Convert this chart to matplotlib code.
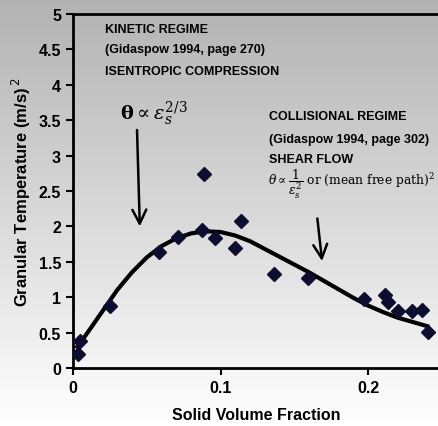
import matplotlib.pyplot as plt
import numpy as np

# measured points (solid volume fraction, granular temperature)
frac = [0.0034, 0.005, 0.025, 0.058, 0.071, 0.0875, 0.089, 0.096, 0.110, 0.114,
        0.136, 0.159, 0.197, 0.2115, 0.2135, 0.220, 0.230, 0.2365, 0.2405]
temp = [0.20, 0.38, 0.88, 1.64, 1.85, 1.95, 2.74, 1.83, 1.70, 2.08,
        1.33, 1.27, 0.97, 1.03, 0.93, 0.80, 0.80, 0.82, 0.51]

# fitted trend line
fit_x = [0.003, 0.01, 0.02, 0.03, 0.04, 0.05, 0.06, 0.07, 0.08, 0.09, 0.10, 0.11,
         0.12, 0.13, 0.14, 0.15, 0.16, 0.17, 0.18, 0.19, 0.20, 0.21, 0.22, 0.23, 0.24]
fit_y = [0.30, 0.50, 0.80, 1.10, 1.35, 1.56, 1.72, 1.83, 1.90, 1.93, 1.92, 1.87,
         1.79, 1.68, 1.57, 1.46, 1.35, 1.23, 1.11, 0.99, 0.88, 0.79, 0.71, 0.65, 0.59]

xticks = [0, 0.1, 0.2]
xtick_labels = ["0", "0.1", "0.2"]
yticks = [0, 0.5, 1, 1.5, 2, 2.5, 3, 3.5, 4, 4.5, 5]
ytick_labels = ["0", "0.5", "1", "1.5", "2", "2.5", "3", "3.5", "4", "4.5", "5"]

plt.rcParams["font.family"] = ["Liberation Sans", "DejaVu Sans"]

fig = plt.figure(figsize=(4.39, 4.27), dpi=100)

# grey-to-white background gradient
bg = fig.add_axes([0, 0, 1, 1], zorder=-10)
f = np.linspace(0, 1, 256)
shade = np.clip(1.0 - 0.30 * f, 0, 1)
img = np.repeat(shade.reshape(-1, 1, 1), 3, axis=2)
bg.imshow(img, aspect="auto", extent=[0, 1, 0, 1], origin="lower")
bg.axis("off")

ax = fig.add_axes([0.166, 0.136, 0.834, 0.829])
ax.patch.set_alpha(0)

ax.plot(fit_x, fit_y, color="black", lw=3, zorder=3)
ax.plot(frac, temp, "D", color="#0d0d30", markersize=7, zorder=4)

ax.set_xlim(0, 0.248)
ax.set_ylim(0, 5)
ax.set_xticks(xticks)
ax.set_xticklabels(xtick_labels)
ax.set_yticks(yticks)
ax.set_yticklabels(ytick_labels)
ax.tick_params(width=1.5, length=5, labelsize=11.5)
ax.tick_params(axis="x", pad=4)
for lab in ax.get_xticklabels() + ax.get_yticklabels():
    lab.set_fontweight("bold")
for s in ["left", "bottom", "top"]:
    ax.spines[s].set_linewidth(2)
ax.spines["right"].set_visible(False)

ax.set_xlabel("Solid Volume Fraction", fontsize=11.5, fontweight="bold", labelpad=8)
ax.set_ylabel(r"Granular Temperature (m/s)$^{\,2}$", fontsize=12, fontweight="bold",
              labelpad=4)

note = dict(fontsize=9, fontweight="bold", va="center")

# kinetic regime notes
ax.text(0.022, 4.79, "KINETIC REGIME", **note)
ax.text(0.022, 4.51, "(Gidaspow 1994, page 270)", **note)
ax.text(0.022, 4.19, "ISENTROPIC COMPRESSION", **note)
ax.text(0.032, 3.6, r"$\mathbf{\theta} \propto \varepsilon_s^{2/3}$", fontsize=14,
        va="center", math_fontfamily="dejavuserif")
ax.annotate("", xy=(0.0454, 1.96), xytext=(0.0434, 3.40),
            arrowprops=dict(arrowstyle="->", lw=1.8, color="black",
                            mutation_scale=25))

# collisional regime notes
ax.text(0.133, 3.56, "COLLISIONAL REGIME", **note)
ax.text(0.133, 3.24, "(Gidaspow 1994, page 302)", **note)
ax.text(0.133, 2.95, "SHEAR FLOW", **note)
ax.text(0.132, 2.60,
        r"$\theta \propto \dfrac{1}{\varepsilon_s^2}$ or (mean free path)$^2$",
        fontsize=8.8, va="center", family=["DejaVu Serif"],
        math_fontfamily="dejavuserif")
ax.annotate("", xy=(0.169, 1.47), xytext=(0.1654, 2.15),
            arrowprops=dict(arrowstyle="->", lw=1.8, color="black",
                            mutation_scale=25))

fig.savefig("out.png", dpi=100)
